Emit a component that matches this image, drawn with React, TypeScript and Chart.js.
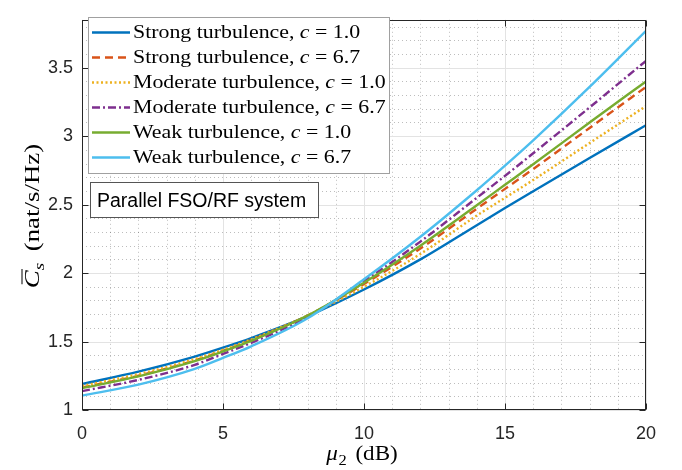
import React, { useEffect, useRef } from "react";
import { Chart, registerables } from "chart.js";

Chart.register(...registerables);

// ---- data ----
const xValues = [0, 2, 4, 5, 6, 8, 10, 12, 14, 15, 16, 18, 20];
const strongC1 = [1.19, 1.28, 1.39, 1.455, 1.525, 1.685, 1.88, 2.1, 2.35, 2.475, 2.598, 2.84, 3.08];
const strongC67 = [1.165, 1.25, 1.362, 1.432, 1.51, 1.69, 1.92, 2.18, 2.47, 2.615, 2.76, 3.06, 3.36];
const moderateC1 = [1.176, 1.262, 1.372, 1.44, 1.515, 1.69, 1.9, 2.14, 2.42, 2.55, 2.68, 2.95, 3.22];
const moderateC67 = [1.138, 1.22, 1.33, 1.41, 1.49, 1.68, 1.94, 2.23, 2.55, 2.71, 2.875, 3.21, 3.55];
const weakC1 = [1.16, 1.245, 1.357, 1.428, 1.505, 1.69, 1.93, 2.2, 2.495, 2.645, 2.795, 3.1, 3.4];
const weakC67 = [1.105, 1.185, 1.3, 1.38, 1.465, 1.67, 1.955, 2.265, 2.605, 2.785, 2.97, 3.36, 3.77];

const seriesNames = [
  "Strong turbulence",
  "Strong turbulence",
  "Moderate turbulence",
  "Moderate turbulence",
  "Weak turbulence",
  "Weak turbulence",
];
const seriesC = ["1.0", "6.7", "1.0", "6.7", "1.0", "6.7"];
const seriesValues = [strongC1, strongC67, moderateC1, moderateC67, weakC1, weakC67];
const seriesColors = ["#0072BD", "#D95319", "#EDB120", "#7E2F8E", "#77AC30", "#4DBEEE"];
const seriesDashes: number[][] = [[], [8, 5], [2, 2.5], [8, 3, 2, 3], [], []];

const xTicks = [0, 5, 10, 15, 20];
const yTicks = [1, 1.5, 2, 2.5, 3, 3.5];
const annotationText = "Parallel FSO/RF system";

const SERIF = '"Liberation Serif", "DejaVu Serif", serif';
const SANS = '"Liberation Sans", Arial, sans-serif';

type Part = { t: string; font: string; dy?: number; over?: boolean; gap?: number };

function partsWidth(ctx: CanvasRenderingContext2D, parts: Part[]) {
  let w = 0;
  for (const p of parts) {
    ctx.font = p.font;
    w += ctx.measureText(p.t).width + (p.gap || 0);
  }
  return w;
}

function drawParts(ctx: CanvasRenderingContext2D, parts: Part[], x: number, y: number) {
  let cx = x;
  for (const p of parts) {
    ctx.font = p.font;
    const w = ctx.measureText(p.t).width;
    ctx.fillText(p.t, cx, y + (p.dy || 0));
    if (p.over) {
      ctx.save();
      ctx.lineWidth = 1;
      ctx.strokeStyle = ctx.fillStyle as string;
      ctx.beginPath();
      ctx.moveTo(cx + 3, y - 17);
      ctx.lineTo(cx + w + 1, y - 17);
      ctx.stroke();
      ctx.restore();
    }
    cx += w + (p.gap || 0);
  }
  return cx;
}

function drawScaled(ctx: CanvasRenderingContext2D, parts: Part[], x: number, y: number, sx: number) {
  ctx.save();
  ctx.translate(x, y);
  ctx.scale(sx, 1);
  drawParts(ctx, parts, 0, 0);
  ctx.restore();
}

const decorPlugin = {
  id: "decor",
  beforeDatasetsDraw(chart: any) {
    const { ctx, chartArea: a, scales } = chart;
    const x = scales.x;
    const y = scales.y;
    ctx.save();
    ctx.lineWidth = 1;
    // minor grid (dotted)
    ctx.strokeStyle = "rgba(0,0,0,0.26)";
    ctx.setLineDash([1, 3]);
    for (let v = 1; v < 20; v++) {
      if (v % 5 === 0) continue;
      const px = Math.round(x.getPixelForValue(v)) + 0.5;
      ctx.beginPath();
      ctx.moveTo(px, a.top);
      ctx.lineTo(px, a.bottom);
      ctx.stroke();
    }
    for (let k = 11; k <= 38; k++) {
      if (k % 5 === 0) continue;
      const py = Math.round(y.getPixelForValue(k / 10)) + 0.5;
      ctx.beginPath();
      ctx.moveTo(a.left, py);
      ctx.lineTo(a.right, py);
      ctx.stroke();
    }
    // major grid
    ctx.setLineDash([]);
    ctx.strokeStyle = "#e3e3e3";
    for (const v of xTicks) {
      const px = Math.round(x.getPixelForValue(v)) + 0.5;
      ctx.beginPath();
      ctx.moveTo(px, a.top);
      ctx.lineTo(px, a.bottom);
      ctx.stroke();
    }
    for (const v of yTicks) {
      const py = Math.round(y.getPixelForValue(v)) + 0.5;
      ctx.beginPath();
      ctx.moveTo(a.left, py);
      ctx.lineTo(a.right, py);
      ctx.stroke();
    }
    ctx.restore();
  },
  afterDatasetsDraw(chart: any) {
    const { ctx, chartArea: a, scales } = chart;
    const x = scales.x;
    const y = scales.y;
    ctx.save();
    ctx.strokeStyle = "#262626";
    ctx.lineWidth = 1;
    const L = Math.round(a.left) + 0.5;
    const R = Math.round(a.right) - 0.5;
    const T = Math.round(a.top) + 0.5;
    const B = Math.round(a.bottom) - 0.5;
    ctx.strokeRect(L, T, R - L, B - T);
    const tl = 6;
    ctx.beginPath();
    for (const v of xTicks) {
      const px = Math.round(x.getPixelForValue(v)) + 0.5;
      ctx.moveTo(px, B);
      ctx.lineTo(px, B - tl);
      ctx.moveTo(px, T);
      ctx.lineTo(px, T + tl);
    }
    for (const v of yTicks) {
      const py = Math.round(y.getPixelForValue(v)) + 0.5;
      ctx.moveTo(L, py);
      ctx.lineTo(L + tl, py);
      ctx.moveTo(R, py);
      ctx.lineTo(R - tl, py);
    }
    ctx.stroke();
    ctx.restore();
  },
  afterDraw(chart: any) {
    const { ctx, chartArea: a } = chart;
    ctx.save();
    // legend box
    ctx.fillStyle = "#ffffff";
    ctx.fillRect(88.5, 17.5, 301, 156);
    ctx.strokeStyle = "#a0a0a0";
    ctx.lineWidth = 1;
    ctx.strokeRect(88.5, 17.5, 301, 156);
    const up = `19px ${SERIF}`;
    const it = `italic 19px ${SERIF}`;
    for (let i = 0; i < seriesNames.length; i++) {
      const ry = 32.5 + i * 25;
      ctx.save();
      ctx.strokeStyle = seriesColors[i];
      ctx.lineWidth = 2.4;
      ctx.setLineDash(seriesDashes[i]);
      ctx.beginPath();
      ctx.moveTo(92, ry);
      ctx.lineTo(130, ry);
      ctx.stroke();
      ctx.restore();
      ctx.fillStyle = "#000000";
      ctx.textBaseline = "alphabetic";
      ctx.textAlign = "left";
      drawScaled(
        ctx,
        [
          { t: seriesNames[i] + ", ", font: up },
          { t: "c", font: it },
          { t: " = " + seriesC[i], font: up },
        ],
        133,
        ry + 5.5,
        1.15
      );
    }
    // annotation box
    ctx.fillStyle = "#ffffff";
    ctx.fillRect(90.5, 182.5, 228, 35);
    ctx.strokeStyle = "#555555";
    ctx.strokeRect(90.5, 182.5, 228, 35);
    ctx.fillStyle = "#000000";
    ctx.font = `19.5px ${SANS}`;
    ctx.textAlign = "left";
    ctx.textBaseline = "alphabetic";
    ctx.fillText(annotationText, 97, 206.5);

    // x title
    ctx.fillStyle = "#000000";
    const xParts: Part[] = [
      { t: "\u03bc", font: `italic 21px ${SERIF}`, gap: 0.5 },
      { t: "2", font: `15px ${SERIF}`, dy: 5, gap: 8 },
      { t: "(dB)", font: `21px ${SERIF}` },
    ];
    const xw = partsWidth(ctx, xParts) * 1.1;
    const xc = (a.left + a.right) / 2 - 2;
    drawScaled(ctx, xParts, xc - xw / 2, 460, 1.1);

    // y title
    const yParts: Part[] = [
      { t: "C", font: `italic 21px ${SERIF}`, over: true },
      { t: "s", font: `italic 15px ${SERIF}`, dy: 5, gap: 9 },
      { t: "(nat/s/Hz)", font: `21px ${SERIF}` },
    ];
    const sy = 1.28;
    const yw = partsWidth(ctx, yParts) * sy;
    ctx.save();
    ctx.translate(39, 216);
    ctx.rotate(-Math.PI / 2);
    drawScaled(ctx, yParts, -yw / 2, 0, sy);
    ctx.restore();

    ctx.restore();
  },
};

export default function App() {
  const canvasRef = useRef<HTMLCanvasElement | null>(null);

  useEffect(() => {
    const canvas = canvasRef.current;
    if (!canvas) return;
    const datasets = seriesValues.map((vals, i) => ({
      label: seriesNames[i] + ", c = " + seriesC[i],
      data: xValues.map((xv, j) => ({ x: xv, y: vals[j] })),
      borderColor: seriesColors[i],
      backgroundColor: seriesColors[i],
      borderWidth: 2.4,
      borderDash: seriesDashes[i],
      pointRadius: 0,
      fill: false,
      cubicInterpolationMode: "monotone" as const,
      order: -i,
    }));
    const chart = new Chart(canvas, {
      type: "line",
      data: { datasets },
      options: {
        animation: false,
        responsive: false,
        devicePixelRatio: 1,
        layout: { padding: { top: 5, right: 36, left: 0, bottom: 0 } },
        plugins: {
          legend: { display: false },
          tooltip: { enabled: false },
          title: { display: false },
        },
        scales: {
          x: {
            type: "linear",
            min: 0,
            max: 20,
            afterBuildTicks: (scale: any) => {
              scale.ticks = xTicks.map((v) => ({ value: v }));
            },
            afterFit: (scale: any) => {
              scale.height = 60;
            },
            ticks: {
              font: { family: SANS, size: 18 },
              color: "#262626",
              padding: 13,
              maxRotation: 0,
              autoSkip: false,
              callback: (v: any) => String(v),
            },
            grid: { display: false, drawTicks: false },
            border: { display: false },
          },
          y: {
            type: "linear",
            min: 1,
            max: 3.85,
            afterBuildTicks: (scale: any) => {
              scale.ticks = yTicks.map((v) => ({ value: v }));
            },
            afterFit: (scale: any) => {
              scale.width = 82;
            },
            ticks: {
              font: { family: SANS, size: 18 },
              color: "#262626",
              padding: 9,
              autoSkip: false,
              callback: (v: any) => String(v),
            },
            grid: { display: false, drawTicks: false },
            border: { display: false },
          },
        },
      },
      plugins: [decorPlugin],
    });
    return () => chart.destroy();
  }, []);

  return (
    <div style={{ position: "absolute", left: 0, top: 0, width: 682, height: 470, background: "#fff" }}>
      <canvas ref={canvasRef} width={682} height={470} style={{ width: 682, height: 470, display: "block" }} />
    </div>
  );
}
